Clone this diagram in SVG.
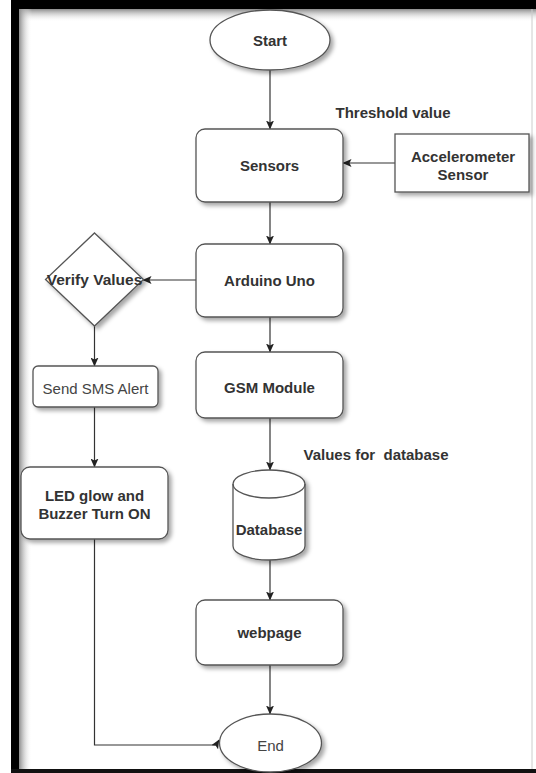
<svg xmlns="http://www.w3.org/2000/svg" width="536" height="773" viewBox="0 0 536 773">
<defs>
<style>
.shape{fill:#fff;stroke:#555;stroke-width:1.3;filter:url(#sh)}
.conn{fill:none;stroke:#333;stroke-width:1.2;marker-end:url(#arr)}
.t{font-family:"Liberation Sans",Arial,sans-serif;font-size:15px;font-weight:bold;fill:#333;text-anchor:middle;dominant-baseline:central}
.r{font-weight:normal;fill:#444}
</style>
<filter id="sh" x="-20%" y="-20%" width="150%" height="150%">
<feDropShadow dx="3" dy="3" stdDeviation="2" flood-color="#000" flood-opacity="0.35"/>
</filter>
<marker id="arr" viewBox="0 0 9 8" refX="8.5" refY="4" markerWidth="9" markerHeight="8" markerUnits="userSpaceOnUse" orient="auto">
<path d="M0,0 L9,4 L0,8 L2,4 z" fill="#222"/>
</marker>
<linearGradient id="gTop" x1="0" y1="0" x2="0" y2="1">
<stop offset="0" stop-color="#8c8c8c"/><stop offset="1" stop-color="#fff" stop-opacity="0"/>
</linearGradient>
<linearGradient id="gLeft" x1="0" y1="0" x2="1" y2="0">
<stop offset="0" stop-color="#8c8c8c"/><stop offset="1" stop-color="#fff" stop-opacity="0"/>
</linearGradient>
</defs>
<rect width="536" height="773" fill="#fff"/>
<g id="frame">
<rect x="19" y="9" width="517" height="13" fill="url(#gTop)"/>
<rect x="19" y="9" width="13" height="760" fill="url(#gLeft)"/>
<rect x="11" y="0" width="525" height="9" fill="#000"/>
<rect x="11" y="0" width="8" height="773" fill="#000"/>
<rect x="11" y="769" width="525" height="4" fill="#111"/>
<line x1="532" y1="9" x2="532" y2="769" stroke="#ccc" stroke-width="1"/>
</g>
<g id="connectors">
<path class="conn" d="M270,70 V129"/>
<path class="conn" d="M395,163 H343"/>
<path class="conn" d="M270,202 V244"/>
<path class="conn" d="M196,280 H143"/>
<path class="conn" d="M270,317 V352"/>
<path class="conn" d="M94.5,325 V366"/>
<path class="conn" d="M94.5,407 V467"/>
<path class="conn" d="M270,418 V470"/>
<path class="conn" d="M270,560 V600"/>
<path class="conn" d="M270,665 V714"/>
<path class="conn" d="M94.5,539 V745 H216 L219,740"/>
</g>
<g id="start">
<ellipse class="shape" cx="270" cy="40" rx="60" ry="30"/>
<text class="t" x="270" y="40">Start</text>
</g>
<g id="threshold">
<text class="t" x="393" y="112">Threshold value</text>
</g>
<g id="sensors">
<rect class="shape" x="196" y="129" width="147" height="73" rx="9"/>
<text class="t" x="269.5" y="165">Sensors</text>
</g>
<g id="accelerometer">
<rect class="shape" x="395" y="134" width="134" height="58"/>
<text class="t" x="463" y="156">Accelerometer</text>
<text class="t" x="463" y="174">Sensor</text>
</g>
<g id="arduino">
<rect class="shape" x="196" y="244" width="147" height="73" rx="9"/>
<text class="t" x="269.5" y="280">Arduino Uno</text>
</g>
<g id="verify">
<polygon class="shape" points="94.5,233 143.5,279.5 94.5,326 45.5,279.5"/>
<text class="t" x="94.5" y="279.5" style="font-size:15.5px">Verify Values</text>
</g>
<g id="gsm">
<rect class="shape" x="196" y="352" width="147" height="66" rx="9"/>
<text class="t" x="269.5" y="387">GSM Module</text>
</g>
<g id="sms">
<rect class="shape" x="33" y="366" width="125" height="41" rx="5"/>
<text class="t r" x="95.5" y="388">Send SMS Alert</text>
</g>
<g id="led">
<rect class="shape" x="21" y="467" width="147" height="72" rx="9"/>
<text class="t" x="94.5" y="495">LED glow and</text>
<text class="t" x="94.5" y="513">Buzzer Turn ON</text>
</g>
<g id="values">
<text class="t" x="376" y="454" style="white-space:pre">Values for  database</text>
</g>
<g id="database">
<path class="shape" d="M233,484 A36,14 0 0 1 305,484 V546 A36,14 0 0 1 233,546 Z"/>
<path d="M233,484 A36,14 0 0 0 305,484" fill="none" stroke="#555" stroke-width="1.3"/>
<text class="t" x="269" y="529">Database</text>
</g>
<g id="webpage">
<rect class="shape" x="196" y="600" width="147" height="65" rx="9"/>
<text class="t" x="269.5" y="632">webpage</text>
</g>
<g id="end">
<ellipse class="shape" cx="270.5" cy="743" rx="51" ry="29"/>
<text class="t r" x="270.5" y="745">End</text>
</g>
</svg>
